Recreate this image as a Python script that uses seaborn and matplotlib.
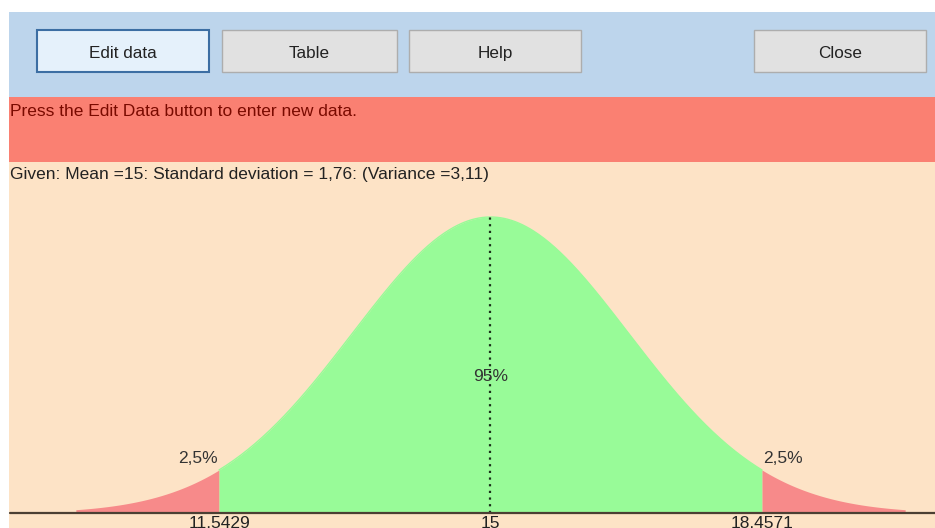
import numpy as np
import matplotlib
matplotlib.use('Agg')
import matplotlib.pyplot as plt
from matplotlib.patches import Rectangle
import seaborn as sns

# valores mostrados no gráfico
mean = 15
sd = 1.76
variance = 3.11
lower_cut = 11.5429
upper_cut = 18.4571
tick_values = [11.5429, 15, 18.4571]
tick_labels = ['11,5429', '15', '18,4571']
tail_label = '2,5%'
middle_label = '95%'
button_labels = ['Edit data', 'Table', 'Help', 'Close']
message = 'Press the Edit Data button to enter new data.'
given = 'Given: Mean =15: Standard deviation = 1,76: (Variance =3,11)'

sns.set_style('white')
plt.rcParams['font.family'] = ['Liberation Sans', 'DejaVu Sans']

W, H = 935, 528
fig = plt.figure(figsize=(W / 100, H / 100), dpi=100)
fig.patch.set_facecolor('white')


def box(x0, y0, x1, y1, z=-2, **kw):
    r = Rectangle((x0 / W, 1 - y1 / H), (x1 - x0) / W, (y1 - y0) / H,
                  transform=fig.transFigure, zorder=z, **kw)
    fig.add_artist(r)


def label(x, y, s, **kw):
    fig.text(x / W, 1 - y / H, s, **kw)


# fundo da janela
box(9, 12, W, 97, facecolor='#bdd5ec', edgecolor='none')
box(9, 97, W, 162, facecolor='#fa8072', edgecolor='none')
box(9, 162, W, H, facecolor='#fde3c6', edgecolor='none')

# botões
buttons = [(37, 209), (222, 397), (409, 581), (754, 926)]
for i, ((x0, x1), txt) in enumerate(zip(buttons, button_labels)):
    if i == 0:
        box(x0, 30, x1, 72, z=-1, facecolor='#e5f1fb', edgecolor='#3c6ea3', linewidth=1.5)
    else:
        box(x0, 30, x1, 72, z=-1, facecolor='#e1e1e1', edgecolor='#adadad', linewidth=1)
    label((x0 + x1) / 2, 52, txt, ha='center', va='center_baseline', fontsize=12.3, color='#222222')

label(10, 112, message, ha='left', va='center', fontsize=12.5, color='#7a0a00')
label(10, 174, given, ha='left', va='center', fontsize=12.5, color='#222222')

# curva normal
peak = 1 / (sd * np.sqrt(2 * np.pi))
pdf = lambda x: peak * np.exp(-0.5 * ((x - mean) / sd) ** 2)

ax = fig.add_axes([0, 0, 1, 1])
ax.patch.set_visible(False)
ax.axis('off')
px_per_unit = (762 - 219) / (upper_cut - lower_cut)
ax.set_xlim(mean - 490.5 / px_per_unit, mean + (W - 490.5) / px_per_unit)
ax.set_ylim(-15 / 296 * peak, (H - 15) / 296 * peak)

green = '#98fb98'
pink = '#f78a8a'
x_left = np.linspace(mean - 3 * sd, lower_cut, 120)
x_mid = np.linspace(lower_cut, upper_cut, 300)
x_right = np.linspace(upper_cut, mean + 3 * sd, 120)
ax.fill_between(x_left, 0, pdf(x_left), color=pink, linewidth=0)
ax.fill_between(x_mid, 0, pdf(x_mid), color=green, linewidth=0)
ax.fill_between(x_right, 0, pdf(x_right), color=pink, linewidth=0)
sns.lineplot(x=x_mid, y=pdf(x_mid), color=green, linewidth=1, ax=ax)

ax.plot([mean, mean], [0, peak], color='#1a2e1a', linewidth=1.6,
        linestyle=(0, (1, 2.0)))
ax.axhline(0, xmin=10 / W, xmax=1, color='#4b3f33', linewidth=1.6)

ax.annotate(tail_label, (lower_cut, pdf(lower_cut)), xytext=(-1, 3),
            textcoords='offset points', ha='right', va='bottom', fontsize=12.5, color='#333333')
ax.annotate(tail_label, (upper_cut, pdf(upper_cut)), xytext=(1, 3),
            textcoords='offset points', ha='left', va='bottom', fontsize=12.5, color='#333333')
ax.text(mean, peak * 0.46, middle_label, ha='center', va='center', fontsize=12.5, color='#333333')

# rótulos do eixo (cortados na borda inferior, como no original)
for v, t in zip(tick_values, tick_labels):
    ax.annotate(t, (v, 0), xytext=(0, -2), textcoords='offset points', ha='center',
                va='top', fontsize=12.5, color='#222222', annotation_clip=False)

fig.savefig('out.png', dpi=100, facecolor=fig.get_facecolor())
